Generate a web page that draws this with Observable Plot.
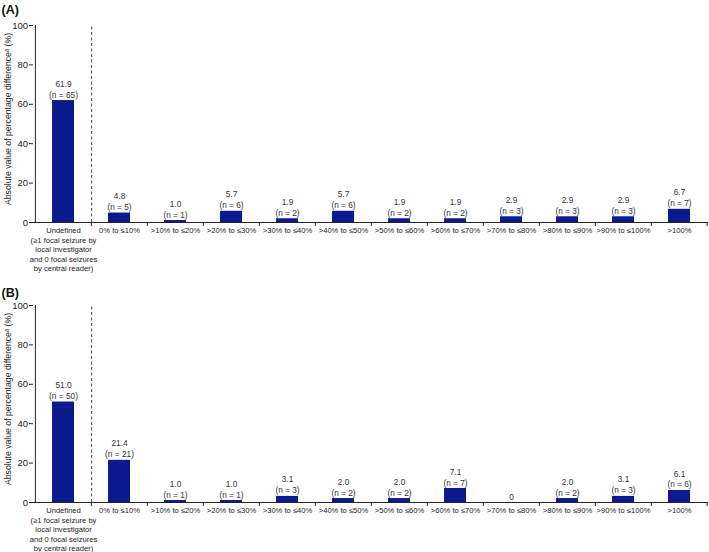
<!DOCTYPE html>
<html>
<head>
<meta charset="utf-8">
<script src="https://cdn.jsdelivr.net/npm/d3@7"></script>
<script src="https://cdn.jsdelivr.net/npm/@observablehq/plot@0.6"></script>
<style>
  html, body { margin: 0; padding: 0; background: #fff; }
  #chart { width: 709px; }
  #chart svg { display: block; }
</style>
</head>
<body>
<div id="chart"></div>
<script>
const categories = [
  "Undefined\n(≥1 focal seizure by\nlocal investigator\nand 0 focal seizures\nby central reader)",
  "0% to ≤10%", ">10% to ≤20%", ">20% to ≤30%", ">30% to ≤40%", ">40% to ≤50%",
  ">50% to ≤60%", ">60% to ≤70%", ">70% to ≤80%", ">80% to ≤90%", ">90% to ≤100%", ">100%"
];
const valuesA = [61.9, 4.8, 1.0, 5.7, 1.9, 5.7, 1.9, 1.9, 2.9, 2.9, 2.9, 6.7];
const countsA = [65, 5, 1, 6, 2, 6, 2, 2, 3, 3, 3, 7];
const valuesB = [51.0, 21.4, 1.0, 1.0, 3.1, 2.0, 2.0, 7.1, 0, 2.0, 3.1, 6.1];
const countsB = [50, 21, 1, 1, 3, 2, 2, 7, 0, 2, 3, 6];
const yTicks = [0, 20, 40, 60, 80, 100];
const panelLabels = ["(A)", "(B)"];
const yTitle = "Absolute value of percentage differenceᵃ (%)";

const W = 709, ML = 33, MR = 1;
const step = (W - ML - MR) / categories.length;
const barColor = "#0b1a8c";
const font = "'Liberation Sans', Arial, Helvetica, sans-serif";

function panel(values, counts, label, cfg) {
  const data = categories.map((c, i) => ({cat: c, v: values[i], n: counts[i]}));
  const labelText = d => d.v === 0 ? "0" : `${d.v.toFixed(1)}\n(n = ${d.n})`;
  return Plot.plot({
    width: W,
    height: cfg.height,
    marginLeft: ML,
    marginRight: MR,
    marginTop: cfg.marginTop,
    marginBottom: cfg.marginBottom,
    style: {fontFamily: font, background: "#fff", overflow: "visible"},
    x: {domain: categories, padding: 0, axis: null},
    y: {domain: [0, 100], axis: null},
    marks: [
      Plot.axisY({ticks: yTicks, tickSize: 4, tickPadding: 1.5, fontSize: 9.5, color: "#222", label: null}),
      Plot.text([yTitle], {frameAnchor: "left", textAnchor: "middle", lineAnchor: "middle",
        rotate: -90, dx: -25, dy: -5, fontSize: 8.7, fill: "#222"}),
      Plot.barY(data, {x: "cat", y: "v", fill: barColor, insetLeft: 17, insetRight: 17}),
      Plot.text(data, {x: "cat", y: "v", text: labelText, lineAnchor: "bottom", dy: -3,
        fontSize: 8.3, lineHeight: 1.32, fill: "#333"}),
      // y axis line
      Plot.ruleX([categories[0]], {dx: -step / 2, y1: 0, y2: 100, stroke: "#222"}),
      // dashed separator after "Undefined"
      Plot.ruleX([categories[0]], {dx: step / 2, y1: 0, y2: 100, stroke: "#444", strokeDasharray: "3,2.5"}),
      // x axis line
      Plot.ruleY([0], {stroke: "#222", strokeWidth: 1.2}),
      // boundary tick marks
      Plot.ruleX(categories.slice(1), {dx: -step / 2, y1: 0, y2: 0, insetBottom: -4, stroke: "#222"}),
      Plot.ruleX([categories[categories.length - 1]], {dx: step / 2 - 0.5, y1: 0, y2: 0, insetBottom: -4, stroke: "#222"}),
      // category labels
      Plot.text(categories, {x: d => d, frameAnchor: "bottom", lineAnchor: "top", dy: 3.5,
        fontSize: 7.6, lineHeight: 1.27, fill: "#222"}),
      // panel label
      Plot.text([label], {frameAnchor: "top-left", textAnchor: "start", lineAnchor: "middle",
        dx: -ML + 1, dy: cfg.labelDy, fontSize: 12.5, fontWeight: "bold", fill: "#111"})
    ]
  });
}

const el = document.getElementById("chart");
el.appendChild(panel(valuesA, countsA, panelLabels[0], {height: 270, marginTop: 25, marginBottom: 48, labelDy: -16}));
el.appendChild(panel(valuesB, countsB, panelLabels[1], {height: 282, marginTop: 35, marginBottom: 50, labelDy: -13}));
</script>
</body>
</html>
